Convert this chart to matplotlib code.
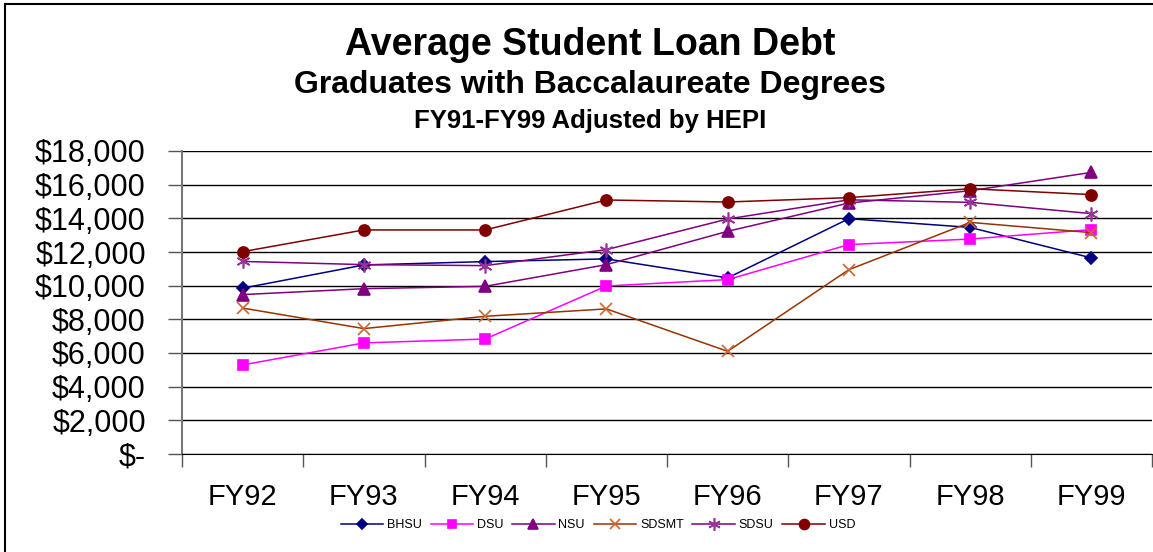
import matplotlib
matplotlib.use("Agg")
import matplotlib.pyplot as plt
from matplotlib.ticker import FuncFormatter, FixedLocator
from matplotlib.lines import Line2D
from matplotlib.patches import Rectangle

plt.rcParams['font.family'] = ['Liberation Sans', 'DejaVu Sans']

categories = ["FY92", "FY93", "FY94", "FY95", "FY96", "FY97", "FY98", "FY99"]
bhsu  = [9850, 11230, 11430, 11590, 10460, 13980, 13460, 11650]
dsu   = [5290, 6600, 6830, 9980, 10360, 12440, 12770, 13330]
nsu   = [9470, 9820, 9960, 11250, 13230, 14910, 15640, 16730]
sdsmt = [8670, 7450, 8180, 8620, 6100, 10950, 13760, 13150]
sdsu  = [11440, 11250, 11190, 12140, 13960, 15100, 14950, 14280]
usd   = [12020, 13310, 13310, 15090, 14970, 15230, 15760, 15410]

series = [
    ("BHSU", bhsu, "#000080", "#000080", "D", 6),
    ("DSU", dsu, "#FF00FF", "#FF00FF", "s", 7),
    ("NSU", nsu, "#800080", "#800080", "^", 8),
    ("SDSMT", sdsmt, "#993300", "#CC6633", "x", 8),
    ("SDSU", sdsu, "#800080", "#993399", (6, 2, 0), 10),
    ("USD", usd, "#800000", "#800000", "o", 8),
]

fig = plt.figure(figsize=(11.53, 5.52), dpi=100)
fig.patches.append(Rectangle((5/1153, -0.1), 1.2, 1.1 - 4/552, transform=fig.transFigure,
                             fill=False, edgecolor="black", linewidth=1.5))
ax = fig.add_axes([182/1153, 1 - 454/552, (1152 - 182)/1153, (454 - 151)/552])

x = list(range(len(categories)))
handles = []
for name, vals, lc, mc, mk, ms in series:
    ax.plot(x, vals, color=lc, linewidth=1.1, marker=mk, markersize=ms,
            markerfacecolor=mc, markeredgecolor=mc, markeredgewidth=1.2, zorder=3)
    handles.append(Line2D([0], [0], color=lc, linewidth=1.1, marker=mk,
                          markersize=ms * 0.9, markerfacecolor=mc, markeredgecolor=mc,
                          markeredgewidth=1.2))

ax.set_xlim(-0.5, len(categories) - 0.5)
ax.set_ylim(0, 18000)
ax.set_yticks(range(0, 18001, 2000))
ax.yaxis.set_major_formatter(FuncFormatter(lambda v, p: "$-" if v == 0 else f"${int(v):,}"))
ax.grid(axis='y', color='black', linewidth=1.0)
ax.set_axisbelow(True)

ax.set_xticks(x)
ax.set_xticklabels(categories)
ax.tick_params(axis='x', which='major', length=0, pad=21, labelsize=21)
ax.xaxis.set_minor_locator(FixedLocator([i - 0.5 for i in range(len(categories) + 1)]))
ax.tick_params(axis='x', which='minor', length=9, width=1, color='#555555', direction='out')
ax.tick_params(axis='y', length=10, width=1, color='#555555', pad=16, labelsize=22)

for s in ['top', 'right']:
    ax.spines[s].set_visible(False)
ax.spines['left'].set_color('#777777')
ax.spines['left'].set_linewidth(1.5)
ax.spines['bottom'].set_color('black')

fig.text(590/1153, 1 - 55/552, "Average Student Loan Debt", ha='center', va='baseline',
         fontsize=27, fontweight='bold')
fig.text(590/1153, 1 - 93/552, "Graduates with Baccalaureate Degrees", ha='center', va='baseline',
         fontsize=23, fontweight='bold')
fig.text(590/1153, 1 - 128/552, "FY91-FY99 Adjusted by HEPI", ha='center', va='baseline',
         fontsize=18.5, fontweight='bold')

fig.legend(handles, [s[0] for s in series], loc='center', bbox_to_anchor=(598/1153, 1 - 525/552),
           ncol=6, frameon=False, fontsize=9, handlelength=3.4, handletextpad=0.3,
           columnspacing=0.7)

fig.savefig("out.png", dpi=100)
